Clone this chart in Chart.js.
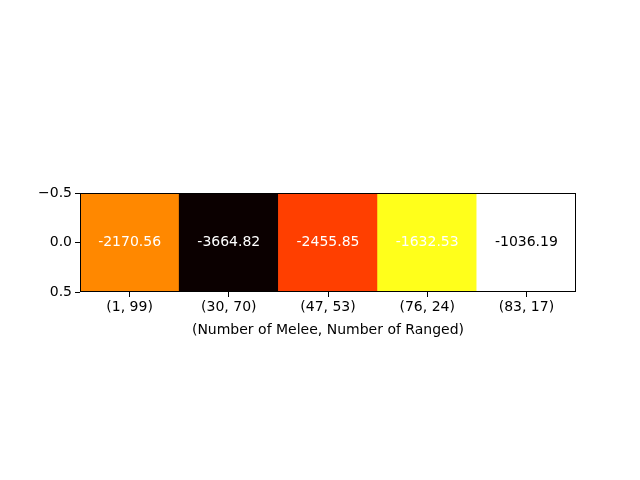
<!DOCTYPE html>
<html>
<head>
<meta charset="utf-8">
<script src="https://cdn.jsdelivr.net/npm/chart.js@4"></script>
<style>
  html, body { margin: 0; padding: 0; background: #fff; }
  canvas { display: block; }
</style>
</head>
<body>
<canvas id="heat" width="640" height="480"></canvas>
<script>
// one-row heatmap, matplotlib 'hot' look

const categories = ['(1, 99)', '(30, 70)', '(47, 53)', '(76, 24)', '(83, 17)'];
const values = [-2170.56, -3664.82, -2455.85, -1632.53, -1036.19];
const yTicks = [-0.5, 0.0, 0.5];
const xTitle = '(Number of Melee, Number of Ranged)';

const FONT = 'DejaVu Sans';

// matplotlib "hot" colormap
function hot(t) {
  const r = Math.min(1, 0.0416 + t * (1 - 0.0416) / 0.365079);
  const g = Math.max(0, Math.min(1, (t - 0.365079) / (0.746032 - 0.365079)));
  const b = Math.max(0, Math.min(1, (t - 0.746032) / (1 - 0.746032)));
  return `rgb(${Math.round(r * 255)},${Math.round(g * 255)},${Math.round(b * 255)})`;
}

const vMin = Math.min(...values);
const vMax = Math.max(...values);
const norm = v => (v - vMin) / (vMax - vMin);

// value labels + frame
const cellLabels = {
  id: 'cellLabels',
  afterDatasetsDraw(chart) {
    const ctx = chart.ctx;
    const meta = chart.getDatasetMeta(0);
    const y = chart.scales.y.getPixelForValue(0);
    ctx.save();
    ctx.font = `14px "${FONT}"`;
    ctx.textAlign = 'center';
    ctx.textBaseline = 'middle';
    meta.data.forEach((bar, i) => {
      ctx.fillStyle = norm(values[i]) > 0.9 ? '#000' : '#fff';
      ctx.fillText(values[i].toFixed(2), bar.x, y);
    });
    const a = chart.chartArea;
    ctx.strokeStyle = '#000';
    ctx.lineWidth = 1;
    ctx.strokeRect(Math.round(a.left) + 0.5, Math.round(a.top) + 0.5,
      Math.round(a.right - a.left) - 1, Math.round(a.bottom - a.top) - 1);
    ctx.restore();
  }
};

new Chart(document.getElementById('heat'), {
  type: 'bar',
  data: {
    labels: categories,
    datasets: [{
      data: categories.map(() => [yTicks[0], yTicks[yTicks.length - 1]]),
      backgroundColor: values.map(v => hot(norm(v))),
      borderWidth: 0,
      barPercentage: 1,
      categoryPercentage: 1
    }]
  },
  options: {
    responsive: false,
    animation: false,
    devicePixelRatio: 1,
    layout: { padding: { top: 193, right: 64, bottom: 137, left: 0 } },
    plugins: { legend: { display: false }, tooltip: { enabled: false } },
    scales: {
      x: {
        offset: true,
        grid: { offset: false, drawOnChartArea: false, color: '#000', tickLength: 5, tickWidth: 1 },
        border: { display: false },
        ticks: { color: '#000', font: { family: FONT, size: 14 }, padding: 2, maxRotation: 0 },
        title: { display: true, text: xTitle, color: '#000', font: { family: FONT, size: 14 }, padding: { top: 0 } },
        afterFit: s => { s.height = 51; }
      },
      y: {
        min: yTicks[0],
        max: yTicks[yTicks.length - 1],
        reverse: true,
        afterBuildTicks: s => { s.ticks = yTicks.map(v => ({ value: v })); },
        grid: { drawOnChartArea: false, color: '#000', tickLength: 5, tickWidth: 1 },
        border: { display: false },
        ticks: {
          color: '#000',
          font: { family: FONT, size: 14 },
          padding: 3,
          callback: v => (v < 0 ? '\u2212' + Math.abs(v).toFixed(1) : v.toFixed(1))
        },
        afterFit: s => { s.width = 80; }
      }
    }
  },
  plugins: [cellLabels]
});
</script>
</body>
</html>
